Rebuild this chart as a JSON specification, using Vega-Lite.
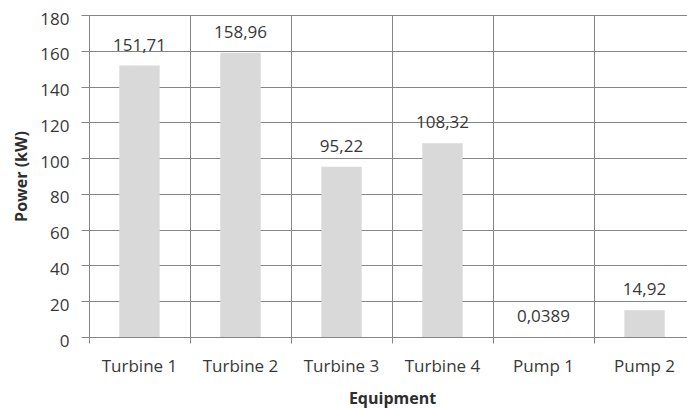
{
  "$schema": "https://vega.github.io/schema/vega-lite/v6.json",
  "width": 606,
  "height": 322,
  "autosize": {"type": "none"},
  "padding": {"left": 89, "top": 15, "right": 0, "bottom": 71},
  "background": "white",
  "config": {
    "locale": {"number": {"decimal": ",", "thousands": ".", "grouping": [3], "currency": ["", " €"]}},
    "view": {"stroke": null},
    "font": "Open Sans"
  },
  "data": {
    "values": [
      {"equipment": "Turbine 1", "power": 151.71},
      {"equipment": "Turbine 2", "power": 158.96},
      {"equipment": "Turbine 3", "power": 95.22},
      {"equipment": "Turbine 4", "power": 108.32},
      {"equipment": "Pump 1", "power": 0.0389},
      {"equipment": "Pump 2", "power": 14.92}
    ]
  },
  "encoding": {
    "x": {
      "field": "equipment",
      "type": "nominal",
      "sort": null,
      "scale": {"paddingInner": 0, "paddingOuter": 0},
      "axis": {
        "title": "Equipment",
        "titleFont": "Open Sans",
        "titleFontSize": 16,
        "titleFontWeight": "bold",
        "titleColor": "#2e2e2e",
        "titleBaseline": "alphabetic",
        "titleY": 66,
        "labelAngle": 0,
        "labelFont": "Open Sans",
        "labelFontSize": 17,
        "labelColor": "#383838",
        "labelBaseline": "alphabetic",
        "labelPadding": 28,
        "bandPosition": 0,
        "grid": true,
        "gridColor": "#858585",
        "gridWidth": 1,
        "ticks": true,
        "tickSize": 6,
        "tickColor": "#858585",
        "domain": true,
        "domainColor": "#858585"
      }
    },
    "y": {
      "field": "power",
      "type": "quantitative",
      "scale": {"domain": [0, 180], "nice": false},
      "axis": {
        "title": "Power (kW)",
        "titleFont": "Open Sans",
        "titleFontSize": 16,
        "titleFontWeight": "bold",
        "titleColor": "#2e2e2e",
        "titleBaseline": "middle",
        "titleX": -68,
        "titleY": 161,
        "values": [0, 20, 40, 60, 80, 100, 120, 140, 160, 180],
        "labelFont": "Open Sans",
        "labelFontSize": 17,
        "labelColor": "#383838",
        "labelBaseline": "alphabetic",
        "labelOffset": 9,
        "labelPadding": 12,
        "grid": true,
        "gridColor": "#858585",
        "gridWidth": 1,
        "ticks": true,
        "tickSize": 8,
        "tickColor": "#858585",
        "domain": true,
        "domainColor": "#858585"
      }
    }
  },
  "layer": [
    {
      "mark": {"type": "bar", "color": "#d9d9d9", "width": {"band": 0.4}}
    },
    {
      "mark": {
        "type": "text",
        "baseline": "alphabetic",
        "dy": -15,
        "font": "Open Sans",
        "fontSize": 17,
        "color": "#383838"
      },
      "encoding": {
        "text": {"field": "power", "type": "quantitative", "format": "~g"}
      }
    }
  ]
}
